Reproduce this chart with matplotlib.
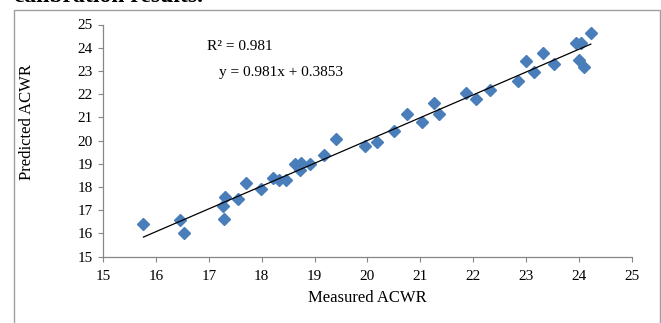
import numpy as np
import matplotlib
matplotlib.use("Agg")
import matplotlib.pyplot as plt
from matplotlib.patches import Rectangle

measured = [15.76, 16.46, 16.53, 17.27, 17.31, 17.28, 17.55, 17.71, 17.98, 18.22,
            18.32, 18.46, 18.63, 18.73, 18.74, 18.91, 19.17, 19.41, 19.96, 20.18,
            20.51, 20.75, 21.03, 21.26, 21.36, 21.86, 22.06, 22.33, 22.86, 23.00,
            23.15, 23.32, 23.54, 23.95, 24.04, 24.00, 24.10, 24.23]
predicted = [16.40, 16.59, 16.01, 17.19, 17.58, 16.62, 17.48, 18.19, 17.91, 18.41,
             18.32, 18.30, 19.01, 18.75, 19.03, 19.01, 19.36, 20.08, 19.78, 19.96,
             20.41, 21.13, 20.82, 21.61, 21.13, 22.07, 21.80, 22.20, 22.56, 23.44,
             22.95, 23.79, 23.30, 24.22, 24.21, 23.47, 23.15, 24.64]
slope = 0.981
intercept = 0.3853
r2_text = "R² = 0.981"
eq_text = "y = 0.981x + 0.3853"
ticks = list(range(15, 26))

plt.rcParams['font.family'] = ['Liberation Serif', 'DejaVu Serif']

fig = plt.figure(figsize=(6.61, 3.23), dpi=100)
fig.patch.set_facecolor('white')

# outer frame
fig.patches.append(Rectangle((14/661, -0.05), (660-14)/661, 1.05 - 10/323,
                             transform=fig.transFigure, fill=False,
                             edgecolor='#a0a0a0', linewidth=1.0))
# cut-off text at top (only the lower part is visible)
fig.text(14/661, 1 - 2/323, "calibration results.", fontsize=17, fontweight='bold',
         ha='left', va='baseline')

ax = fig.add_axes([103.3/661, 1 - 256.7/323, (631.5-103.3)/661, (256.7-24.5)/323])
ax.plot(measured, predicted, linestyle='none', marker='D', ms=6.3,
        color='#4a7ebb', markeredgecolor='#4a7ebb')
xs = np.array([min(measured), max(measured)])
ax.plot(xs, slope*xs + intercept, color='black', linewidth=0.9)

ax.set_xlim(15, 25)
ax.set_ylim(15, 25)
ax.set_xticks(ticks)
ax.set_yticks(ticks)
for s in ['top', 'right']:
    ax.spines[s].set_visible(False)
for s in ['left', 'bottom']:
    ax.spines[s].set_color('#868686')
    ax.spines[s].set_linewidth(0.9)
ax.tick_params(direction='out', length=3.5, color='#868686', labelsize=11)
ax.tick_params(axis='x', pad=6)
ax.tick_params(axis='y', pad=4)
ax.set_xlabel("Measured ACWR", fontsize=12)
ax.set_ylabel("Predicted ACWR", fontsize=12)
ax.xaxis.set_label_coords((367 - 103.3)/(631.5 - 103.3), -(298 - 256.7)/(256.7 - 24.5))
ax.yaxis.set_label_coords(-(103.3 - 27)/(631.5 - 103.3), (256.7 - 122)/(256.7 - 24.5))
ax.xaxis.label.set_va('center')
ax.yaxis.label.set_va('center')

ax.text(207/661, 1 - 47/323, r2_text, transform=fig.transFigure, fontsize=11,
        ha='left', va='center')
ax.text(219/661, 1 - 73/323, eq_text, transform=fig.transFigure, fontsize=11,
        ha='left', va='center')

fig.savefig("out.png", dpi=100)
